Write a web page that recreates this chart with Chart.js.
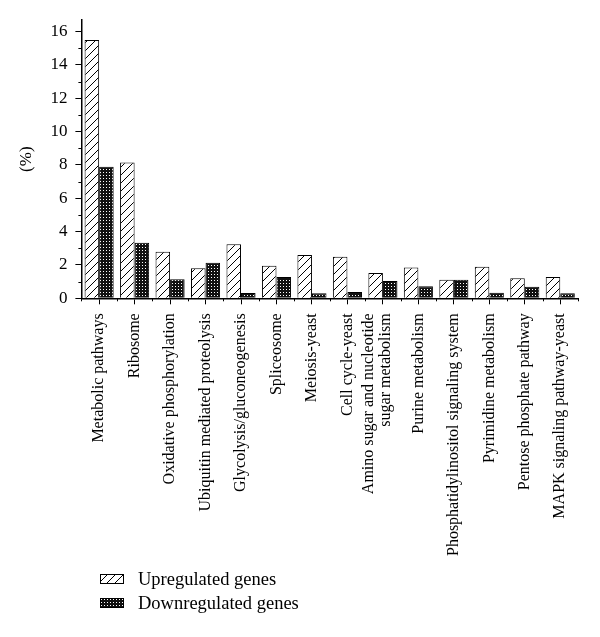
<!DOCTYPE html>
<html>
<head>
<meta charset="utf-8">
<script src="https://cdn.jsdelivr.net/npm/chart.js@4.4.1/dist/chart.umd.min.js"></script>
<style>
  body { margin: 0; background: #fff; }
  #wrap { position: relative; width: 600px; height: 637px; }
  #legend { position: absolute; left: 100px; top: 567px; font: 18.5px "Liberation Serif", "DejaVu Serif", serif; color: #000; }
  #legend .item { display: flex; align-items: center; height: 24px; }
  #legend canvas { margin-right: 14px; }
</style>
</head>
<body>
<div id="wrap">
  <canvas id="chart" width="600" height="637"></canvas>
  <div id="legend"></div>
</div>
<script>
var categories = [
  "Metabolic pathways",
  "Ribosome",
  "Oxidative phosphorylation",
  "Ubiquitin mediated proteolysis",
  "Glycolysis/gluconeogenesis",
  "Spliceosome",
  "Meiosis-yeast",
  "Cell cycle-yeast",
  ["Amino sugar and nucleotide", "sugar metabolism"],
  "Purine metabolism",
  "Phosphatidylinositol signaling system",
  "Pyrimidine metabolism",
  "Pentose phosphate pathway",
  "MAPK signaling pathway-yeast"
];
var upregulated = [15.5, 8.15, 2.8, 1.8, 3.25, 1.95, 2.6, 2.5, 1.52, 1.85, 1.12, 1.9, 1.2, 1.28];
var downregulated = [7.9, 3.33, 1.14, 2.13, 0.32, 1.28, 0.3, 0.38, 1.04, 0.72, 1.12, 0.34, 0.7, 0.3];
var yTicks = [0, 2, 4, 6, 8, 10, 12, 14, 16];
var seriesNames = ["Upregulated genes", "Downregulated genes"];

var serif = "'Liberation Serif', 'DejaVu Serif', serif";

// hatch "/" pattern for upregulated bars
function hatchTile() {
  var c = document.createElement("canvas");
  c.width = 8; c.height = 8;
  var g = c.getContext("2d");
  g.fillStyle = "#fff";
  g.fillRect(0, 0, 8, 8);
  g.strokeStyle = "#000";
  g.lineWidth = 1;
  g.beginPath();
  g.moveTo(0, 8); g.lineTo(8, 0);
  g.moveTo(-1, 1); g.lineTo(1, -1);
  g.moveTo(7, 9); g.lineTo(9, 7);
  g.stroke();
  return c;
}

// dotted dark pattern for downregulated bars
function dotTile() {
  var c = document.createElement("canvas");
  c.width = 3; c.height = 3;
  var g = c.getContext("2d");
  g.fillStyle = "#111";
  g.fillRect(0, 0, 3, 3);
  g.fillStyle = "#fff";
  g.fillRect(1, 1, 1, 1);
  return c;
}

var tmp = document.createElement("canvas").getContext("2d");
var upFill = tmp.createPattern(hatchTile(), "repeat");
var downFill = tmp.createPattern(dotTile(), "repeat");

// center multi-line x labels on their tick
var centerLabels = {
  id: "centerLabels",
  beforeDraw: function (chart) {
    var x = chart.scales.x;
    var items = x.getLabelItems(chart.chartArea);
    items.forEach(function (item) {
      if (Array.isArray(item.label) && item.label.length > 1) {
        item.textOffset = -(item.label.length - 1) * item.font.lineHeight / 2 + 3;
      }
    });
  }
};

// short minor ticks on both axes
var minorTicks = {
  id: "minorTicks",
  afterDraw: function (chart) {
    var ctx = chart.ctx;
    var x = chart.scales.x, y = chart.scales.y;
    ctx.save();
    ctx.strokeStyle = "#000";
    ctx.lineWidth = 1;
    ctx.beginPath();
    for (var v = 1; v < 16; v += 2) {
      var py = Math.round(y.getPixelForValue(v)) + 0.5;
      ctx.moveTo(x.left - 3, py);
      ctx.lineTo(x.left, py);
    }
    for (var i = 0; i <= categories.length; i++) {
      var px = Math.round(x.getPixelForValue(i - 0.5)) + 0.5;
      ctx.moveTo(px, y.bottom);
      ctx.lineTo(px, y.bottom + 3);
    }
    ctx.stroke();
    ctx.restore();
  }
};

var ctx = document.getElementById("chart").getContext("2d");
var chart = new Chart(ctx, {
  type: "bar",
  data: {
    labels: categories,
    datasets: [
      {
        label: seriesNames[0],
        data: upregulated,
        backgroundColor: upFill,
        borderColor: "#000",
        borderWidth: 1
      },
      {
        label: seriesNames[1],
        data: downregulated,
        backgroundColor: downFill,
        borderColor: "#000",
        borderWidth: 1
      }
    ]
  },
  options: {
    responsive: false,
    animation: false,
    layout: { padding: { top: 20, right: 22, bottom: 72, left: 4 } },
    categoryPercentage: 0.82,
    barPercentage: 1,
    plugins: {
      legend: { display: false },
      tooltip: { enabled: false }
    },
    scales: {
      x: {
        offset: true,
        grid: { display: true, drawOnChartArea: false, offset: false, color: "#000", tickLength: 6 },
        border: { display: true, color: "#000", width: 1.5 },
        ticks: {
          color: "#000",
          font: { family: serif, size: 16, lineHeight: 1.05 },
          maxRotation: 90,
          minRotation: 90,
          autoSkip: false,
          padding: 9
        }
      },
      y: {
        min: 0,
        max: 16.7,
        afterBuildTicks: function (scale) {
          scale.ticks = yTicks.map(function (v) { return { value: v }; });
        },
        grid: { display: true, drawOnChartArea: false, color: "#000", tickLength: 6 },
        border: { display: true, color: "#000", width: 1.5 },
        title: {
          display: true,
          text: "(%)",
          color: "#000",
          font: { family: serif, size: 17 },
          padding: { top: 12, bottom: 6 }
        },
        ticks: {
          color: "#000",
          font: { family: serif, size: 17 },
          padding: 8
        }
      }
    }
  },
  plugins: [centerLabels, minorTicks]
});

// legend below the axis labels
var legend = document.getElementById("legend");
[upFill, downFill].forEach(function (fill, k) {
  var item = document.createElement("div");
  item.className = "item";
  var sw = document.createElement("canvas");
  sw.width = 24; sw.height = 10;
  var g = sw.getContext("2d");
  g.fillStyle = fill;
  g.fillRect(0, 0, 24, 10);
  g.strokeStyle = "#000";
  g.strokeRect(0.5, 0.5, 23, 9);
  item.appendChild(sw);
  item.appendChild(document.createTextNode(seriesNames[k]));
  legend.appendChild(item);
});
</script>
</body>
</html>
